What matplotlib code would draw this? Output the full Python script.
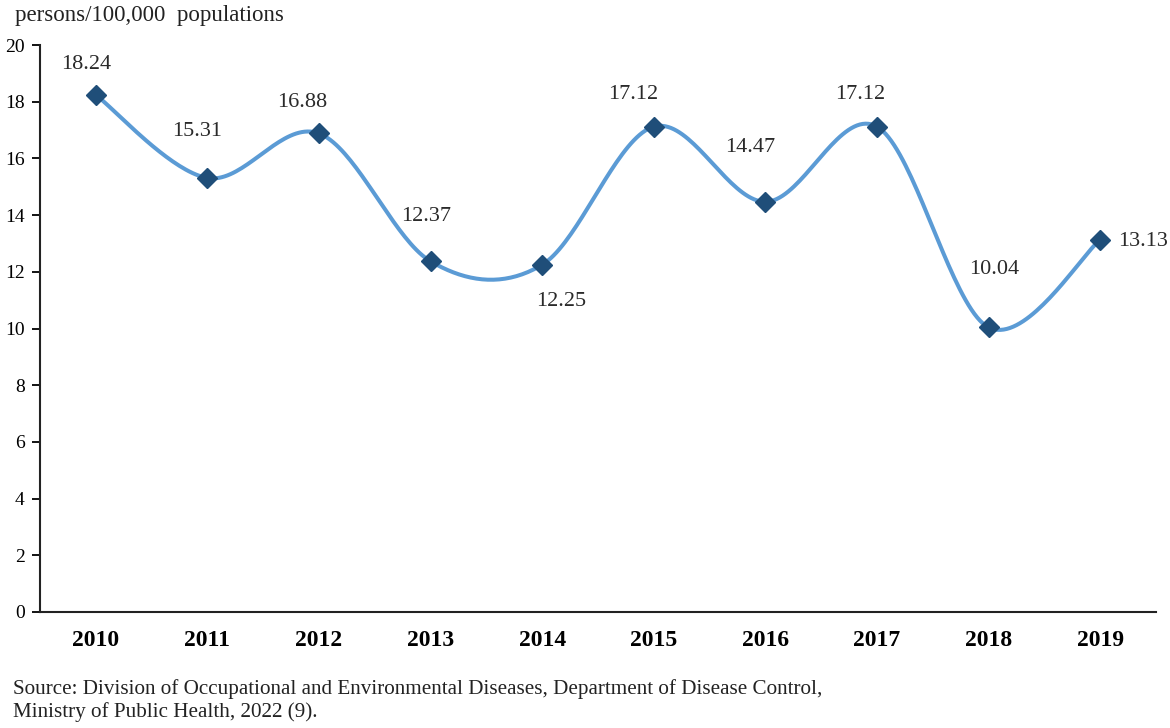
import numpy as np
import matplotlib
matplotlib.use("Agg")
import matplotlib.pyplot as plt

years = ["2010", "2011", "2012", "2013", "2014", "2015", "2016", "2017", "2018", "2019"]
rates = [18.24, 15.31, 16.88, 12.37, 12.25, 17.12, 14.47, 17.12, 10.04, 13.13]
yticks = [0, 2, 4, 6, 8, 10, 12, 14, 16, 18, 20]

# label placement offsets in pixels (dx, dy of text centre), style only
label_offsets = [(-10, 30), (-10, 46), (-17, 31), (-4, 45), (19, -37),
                 (-21, 32), (-15, 54), (-17, 32), (6, 58), (18, -2)]

plt.rcParams['font.family'] = ['Liberation Serif', 'DejaVu Serif']

fig = plt.figure(figsize=(11.7, 7.28), dpi=100)
ax = fig.add_axes([40/1170, 1-612/728, (1156-40)/1170, (612-45)/728])

x = np.arange(len(rates), dtype=float)
y = np.array(rates, dtype=float)

# Catmull-Rom style smoothing (Excel smoothed line)
xs, ys = [], []
n = len(x)
for i in range(n - 1):
    p0 = np.array([x[i-1], y[i-1]]) if i > 0 else np.array([x[i], y[i]])
    p1 = np.array([x[i], y[i]])
    p2 = np.array([x[i+1], y[i+1]])
    p3 = np.array([x[i+2], y[i+2]]) if i + 2 < n else p2
    c1 = p1 + (p2 - p0) / 6.0
    c2 = p2 - (p3 - p1) / 6.0
    t = np.linspace(0, 1, 40)[:, None]
    pts = (1-t)**3*p1 + 3*(1-t)**2*t*c1 + 3*(1-t)*t**2*c2 + t**3*p2
    xs.extend(pts[:, 0]); ys.extend(pts[:, 1])

ax.plot(xs, ys, color="#5B9BD5", lw=2.9, solid_capstyle="round", zorder=2)
ax.plot(x, y, linestyle="none", marker="D", ms=10.5, color="#1F4E79",
        markeredgecolor="#1F4E79", zorder=3)

for i, (xi, yi) in enumerate(zip(x, y)):
    dx, dy = label_offsets[i]
    ha = "left" if i == n - 1 else "center"
    ax.annotate(f"{yi:.2f}", (xi, yi), xytext=(dx, dy), textcoords="offset pixels",
                ha=ha, va="center", fontsize=16, color="#2a2a2a")

ax.set_xlim(-0.5, n - 0.5)
ax.set_ylim(0, 20)
ax.set_yticks(yticks)
ax.set_yticklabels([str(v) for v in yticks], fontsize=14)
ax.set_xticks(x)
ax.set_xticklabels(years, fontsize=17, fontweight="bold")
ax.tick_params(axis="x", length=0, pad=13)
ax.tick_params(axis="y", length=6, width=1.3, pad=5, direction="out")
for s in ["top", "right"]:
    ax.spines[s].set_visible(False)
for s in ["left", "bottom"]:
    ax.spines[s].set_linewidth(1.5)
    ax.spines[s].set_color("#222222")

fig.text(15/1170, 1-15/728, "persons/100,000  populations", fontsize=16.5,
         ha="left", va="center", color="#222222")
fig.text(13/1170, 1-689/728, "Source: Division of Occupational and Environmental Diseases, Department of Disease Control,",
         fontsize=15.2, ha="left", va="center", color="#222222")
fig.text(13/1170, 1-712/728, "Ministry of Public Health, 2022 (9).",
         fontsize=15.2, ha="left", va="center", color="#222222")

fig.savefig("out.png", dpi=100, facecolor="white")
